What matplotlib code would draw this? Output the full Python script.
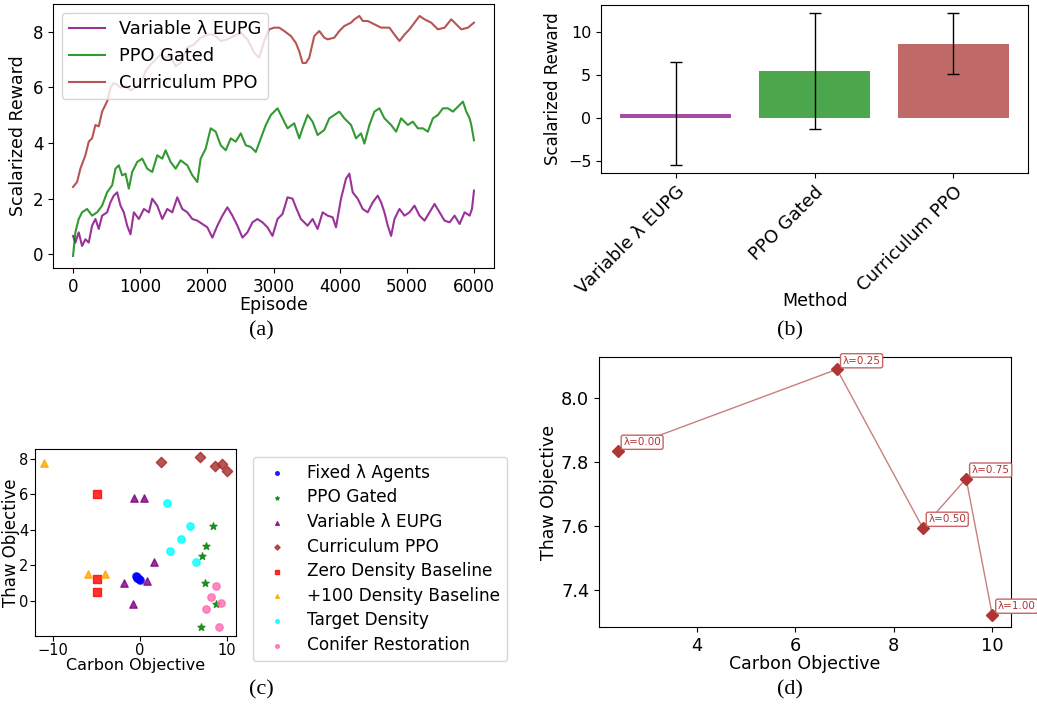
import matplotlib
matplotlib.use("Agg")
import matplotlib.pyplot as plt
import numpy as np

# ---- panel (a): training curves ----
eupg_ep = [0, 35, 85, 135, 185, 235, 285, 335, 385, 435, 510, 560, 610, 660, 710, 760, 810, 860, 910, 985,
           1060, 1135, 1185, 1260, 1335, 1410, 1485, 1560, 1635, 1710, 1785, 1860, 1935, 2010, 2085, 2160,
           2235, 2310, 2385, 2460, 2535, 2610, 2685, 2760, 2835, 2910, 2985, 3060, 3135, 3210, 3285, 3335,
           3410, 3510, 3585, 3660, 3735, 3810, 3885, 3935, 4010, 4085, 4135, 4185, 4260, 4335, 4410, 4485,
           4560, 4610, 4660, 4710, 4760, 4810, 4885, 4960, 5035, 5110, 5185, 5260, 5335, 5410, 5485, 5560,
           5635, 5710, 5785, 5860, 5935, 5970, 6000]
eupg_val = [0.66, 0.42, 0.79, 0.3, 0.54, 0.42, 1.03, 1.27, 0.91, 1.39, 1.51, 1.87, 2.11, 2.23, 1.75, 1.51,
            1.03, 0.72, 1.51, 1.27, 1.63, 1.51, 2.0, 1.75, 1.27, 1.63, 1.51, 2.05, 1.63, 1.51, 1.27, 1.21,
            1.09, 0.97, 0.6, 1.03, 1.39, 1.69, 1.39, 1.03, 0.6, 0.79, 1.15, 1.27, 1.15, 0.97, 0.66, 1.27,
            1.45, 2.05, 2.0, 1.69, 1.27, 1.03, 1.27, 0.91, 1.51, 1.39, 1.33, 0.97, 2.0, 2.72, 2.9, 2.23,
            2.0, 1.63, 1.51, 1.87, 2.11, 1.87, 1.51, 1.03, 0.66, 1.27, 1.63, 1.39, 1.51, 1.75, 1.39, 1.21,
            1.51, 1.81, 1.51, 1.21, 1.15, 1.39, 1.09, 1.51, 1.39, 1.63, 2.29]

gated_ep = [0, 35, 85, 135, 210, 285, 360, 435, 510, 585, 635, 685, 735, 785, 835, 885, 960, 1035, 1110,
            1185, 1260, 1335, 1385, 1460, 1535, 1610, 1710, 1785, 1860, 1910, 1985, 2060, 2135, 2210, 2285,
            2360, 2435, 2510, 2585, 2660, 2735, 2810, 2885, 2960, 3060, 3135, 3210, 3310, 3385, 3435, 3510,
            3585, 3660, 3760, 3835, 3910, 3985, 4060, 4160, 4235, 4310, 4360, 4435, 4510, 4585, 4660, 4760,
            4835, 4910, 5010, 5085, 5160, 5235, 5310, 5385, 5460, 5535, 5610, 5685, 5760, 5835, 5885, 5935,
            5960, 6000]
gated_val = [-0.06, 0.79, 1.27, 1.51, 1.63, 1.39, 1.51, 1.75, 2.23, 2.48, 3.08, 3.2, 2.84, 2.9, 2.36, 2.96,
             3.32, 3.44, 3.08, 2.96, 3.56, 3.44, 3.74, 3.32, 3.08, 3.38, 3.2, 2.84, 2.6, 3.44, 3.8, 4.53,
             4.41, 3.92, 3.74, 4.17, 4.05, 4.35, 3.92, 3.86, 3.68, 4.17, 4.65, 5.01, 5.25, 4.89, 4.53, 4.71,
             4.17, 4.53, 5.01, 4.77, 4.29, 4.47, 4.89, 5.01, 5.13, 4.89, 4.65, 4.17, 4.35, 3.98, 4.65, 5.13,
             5.25, 4.89, 4.65, 4.41, 4.89, 4.65, 4.77, 4.53, 4.53, 4.41, 4.89, 5.01, 5.25, 5.25, 5.13, 5.31,
             5.49, 5.13, 4.89, 4.65, 4.1]

curr_ep = [0, 60, 110, 185, 235, 285, 335, 385, 435, 510, 560, 610, 660, 710, 785, 860, 935, 1010, 1085,
           1160, 1235, 1310, 1385, 1460, 1535, 1610, 1710, 1810, 1910, 2010, 2110, 2210, 2310, 2410, 2510,
           2610, 2710, 2785, 2860, 2935, 3010, 3085, 3160, 3260, 3335, 3385, 3435, 3485, 3535, 3610, 3685,
           3760, 3810, 3910, 3985, 4060, 4160, 4210, 4285, 4335, 4410, 4510, 4610, 4735, 4810, 4885, 4960,
           5035, 5110, 5185, 5260, 5360, 5460, 5560, 5660, 5735, 5810, 5910, 6000]
curr_val = [2.42, 2.6, 3.08, 3.56, 4.05, 4.17, 4.65, 4.6, 5.13, 5.5, 5.98, 6.16, 6.1, 6.0, 6.04, 5.9, 6.0,
            6.1, 6.58, 6.82, 7.0, 7.19, 7.07, 7.13, 6.76, 6.88, 7.43, 7.55, 7.79, 7.9, 7.9, 7.67, 7.73, 7.85,
            7.97, 7.73, 7.25, 7.07, 7.67, 8.09, 8.15, 8.15, 8.03, 7.85, 7.6, 7.3, 6.88, 6.88, 7.07, 7.85,
            8.03, 7.79, 7.73, 7.79, 8.03, 8.21, 8.33, 8.45, 8.57, 8.39, 8.39, 8.27, 8.15, 8.15, 7.9, 7.67,
            7.9, 8.09, 8.33, 8.57, 8.45, 8.33, 8.09, 8.15, 8.45, 8.27, 8.09, 8.15, 8.33]

# ---- panel (b): mean reward per method ----
methods = ["Variable λ EUPG", "PPO Gated", "Curriculum PPO"]
mean_reward = [0.5, 5.45, 8.6]
std_reward = [6.0, 6.75, 3.55]

# ---- panel (c): objective space ----
fixed_carbon = [-0.45, -0.35, -0.3, -0.15, 0.0]
fixed_thaw = [1.4, 1.35, 1.3, 1.22, 1.17]
gated_carbon = [8.35, 7.62, 7.12, 7.5, 8.73, 7.04]
gated_thaw = [4.24, 3.1, 2.5, 0.98, -0.19, -1.52]
eupg_carbon = [-0.73, 0.46, 1.65, -1.8, 0.85, -0.85]
eupg_thaw = [5.81, 5.81, 2.2, 0.98, 1.1, -0.21]
zero_carbon = [-5.0, -5.0, -5.0]
zero_thaw = [6.0, 1.21, 0.49]
plus_carbon = [-11.04, -6.0, -4.0]
plus_thaw = [7.8, 1.5, 1.5]
target_carbon = [3.15, 5.77, 4.73, 3.46, 6.46]
target_thaw = [5.53, 4.2, 3.5, 2.82, 2.2]
conifer_carbon = [8.73, 8.12, 7.54, 9.31, 9.04]
conifer_thaw = [0.8, 0.21, -0.49, -0.11, -1.52]

# ---- panel (d): curriculum PPO per lambda ----
lambdas = [0.00, 0.25, 0.50, 0.75, 1.00]
curr_carbon = [2.4, 6.85, 8.59, 9.47, 10.0]
curr_thaw = [7.835, 8.09, 7.594, 7.748, 7.322]

fig = plt.figure(figsize=(10.37, 7.11), dpi=100)

# (a)
ax = fig.add_axes([0.0511, 0.6231, 0.4253, 0.3713])
ax.plot(eupg_ep, eupg_val, color="purple", alpha=0.8, lw=1.5, label="Variable λ EUPG")
ax.plot(gated_ep, gated_val, color="green", alpha=0.8, lw=1.5, label="PPO Gated")
ax.plot(curr_ep, curr_val, color="brown", alpha=0.8, lw=1.5, label="Curriculum PPO")
ax.set_xlabel("Episode", fontsize=12.5, labelpad=0)
ax.set_ylabel("Scalarized Reward", fontsize=12.5)
ax.tick_params(labelsize=12)
ax.set_xticks([0, 1000, 2000, 3000, 4000, 5000, 6000])
ax.legend(loc="upper left", fontsize=12.8)

# (b)
ax = fig.add_axes([0.5796, 0.7567, 0.4118, 0.2363])
ax.bar(methods, mean_reward, yerr=std_reward, capsize=4, color=["purple", "green", "brown"], alpha=0.7,
       error_kw=dict(elinewidth=1, ecolor="black"))
ax.set_xlabel("Method", fontsize=12.5, labelpad=-4)
ax.set_ylabel("Scalarized Reward", fontsize=12)
ax.tick_params(axis="y", labelsize=11.5)
ax.tick_params(axis="x", labelsize=13)
plt.setp(ax.get_xticklabels(), rotation=45, ha="right", rotation_mode="anchor")

# (c)
ax = fig.add_axes([0.0338, 0.1055, 0.1938, 0.263])
ax.scatter(fixed_carbon, fixed_thaw, color="blue", alpha=0.8, marker="o", s=28, label="Fixed λ Agents")
ax.scatter(gated_carbon, gated_thaw, color="green", alpha=0.8, marker="*", s=28, label="PPO Gated")
ax.scatter(eupg_carbon, eupg_thaw, color="purple", alpha=0.8, marker="^", s=28, label="Variable λ EUPG")
ax.scatter(curr_carbon, curr_thaw, color="brown", alpha=0.8, marker="D", s=28, label="Curriculum PPO")
ax.scatter(zero_carbon, zero_thaw, color="red", alpha=0.8, marker="s", s=28, label="Zero Density Baseline")
ax.scatter(plus_carbon, plus_thaw, color="orange", alpha=0.8, marker="^", s=28, label="+100 Density Baseline")
ax.scatter(target_carbon, target_thaw, color="cyan", alpha=0.8, marker="o", s=28, label="Target Density")
ax.scatter(conifer_carbon, conifer_thaw, color="hotpink", alpha=0.8, marker="o", s=28, label="Conifer Restoration")
ax.set_xticks([-10, 0, 10])
ax.set_yticks([0, 2, 4, 6, 8])
ax.tick_params(labelsize=10.5, pad=1.5)
ax.set_xlabel("Carbon Objective", fontsize=11.5, labelpad=0)
ax.set_ylabel("Thaw Objective", fontsize=12)
ax.yaxis.set_label_coords(-0.075, 0.5)
ax.legend(loc="upper left", bbox_to_anchor=(253 / 1037, 1 - 457 / 711), bbox_transform=fig.transFigure,
          borderaxespad=0, fontsize=12.2, markerscale=0.5, labelspacing=0.39)

# (d)
ax = fig.add_axes([0.5776, 0.1181, 0.3973, 0.3797])
ax.plot(curr_carbon, curr_thaw, "-", color="brown", alpha=0.6, lw=1)
ax.plot(curr_carbon, curr_thaw, "D", color="#b03535", ms=6, ls="none")
for lam, cx, ty in zip(lambdas, curr_carbon, curr_thaw):
    ax.annotate(f"λ={lam:.2f}", (cx, ty), xytext=(4, 4), textcoords="offset points", fontsize=7.5,
                color="#b03535", bbox=dict(boxstyle="round,pad=0.2", fc="white", ec="#c86464", lw=1))
ax.set_xticks([4, 6, 8, 10])
ax.set_yticks([7.4, 7.6, 7.8, 8.0])
ax.tick_params(labelsize=12.8)
ax.set_xlabel("Carbon Objective", fontsize=12.5, labelpad=0)
ax.set_ylabel("Thaw Objective", fontsize=12.5, labelpad=2)

for label, x, y in [("(a)", 0.2517, 0.5345), ("(b)", 0.7618, 0.5345),
                    ("(c)", 0.2517, 0.0295), ("(d)", 0.7618, 0.0295)]:
    fig.text(x, y, label, ha="center", va="center", fontsize=16, family="Liberation Serif")

fig.savefig("out.png", dpi=100)
